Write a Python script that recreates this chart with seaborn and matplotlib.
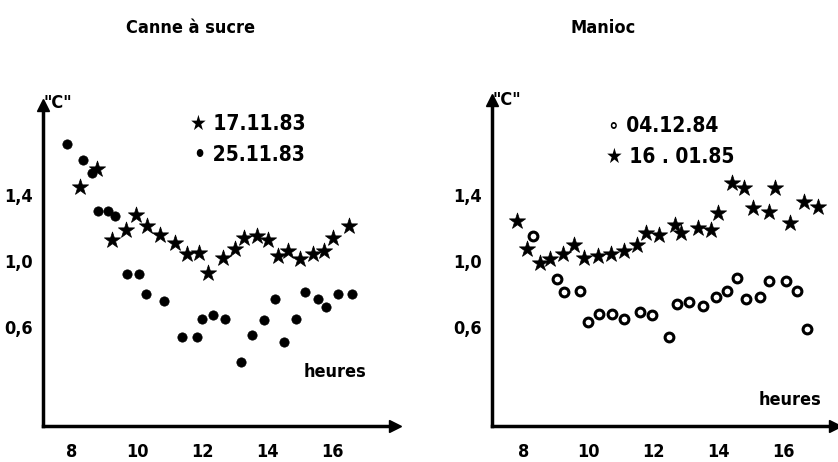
import numpy as np
import pandas as pd
import matplotlib.pyplot as plt
import seaborn as sns

# Canne a sucre
canne_h_1711 = [8.25, 8.76, 9.24, 9.65, 9.95, 10.31, 10.70, 11.17, 11.54, 11.90, 12.18, 12.62,
                13.00, 13.28, 13.67, 14.00, 14.33, 14.64, 15.01, 15.38, 15.73, 16.00, 16.50]
canne_t_1711 = [1.45, 1.56, 1.13, 1.19, 1.28, 1.21, 1.16, 1.11, 1.04, 1.05, 0.93, 1.02,
                1.07, 1.14, 1.15, 1.13, 1.03, 1.06, 1.01, 1.04, 1.06, 1.14, 1.21]
canne_h_2511 = [7.84, 8.35, 8.62, 8.81, 9.09, 9.32, 9.68, 10.06, 10.27, 10.82, 11.36, 11.84,
                11.98, 12.33, 12.69, 13.17, 13.52, 13.89, 14.24, 14.50, 14.86, 15.14, 15.54,
                15.78, 16.17, 16.59]
canne_t_2511 = [1.71, 1.61, 1.53, 1.30, 1.30, 1.27, 0.92, 0.92, 0.80, 0.76, 0.54, 0.54,
                0.65, 0.67, 0.65, 0.39, 0.55, 0.64, 0.77, 0.51, 0.65, 0.81, 0.77,
                0.72, 0.80, 0.80]

# Manioc
manioc_h_0412 = [8.29, 9.02, 9.24, 9.74, 9.98, 10.32, 10.71, 11.09, 11.57, 11.96, 12.47, 12.73,
                 13.09, 13.52, 13.93, 14.27, 14.57, 14.85, 15.29, 15.55, 16.08, 16.44, 16.73]
manioc_t_0412 = [1.15, 0.89, 0.81, 0.82, 0.63, 0.68, 0.68, 0.65, 0.69, 0.67, 0.54, 0.74,
                 0.75, 0.73, 0.78, 0.82, 0.90, 0.77, 0.78, 0.88, 0.88, 0.82, 0.59]
manioc_h_1601 = [7.78, 8.11, 8.49, 8.82, 9.21, 9.55, 9.85, 10.29, 10.70, 11.09, 11.50, 11.78,
                 12.18, 12.65, 12.85, 13.36, 13.78, 13.98, 14.42, 14.78, 15.06, 15.57, 15.75,
                 16.22, 16.65, 17.06]
manioc_t_1601 = [1.24, 1.07, 0.99, 1.01, 1.04, 1.10, 1.02, 1.03, 1.04, 1.06, 1.10, 1.17,
                 1.16, 1.22, 1.17, 1.20, 1.19, 1.29, 1.47, 1.44, 1.32, 1.30, 1.44,
                 1.23, 1.36, 1.33]

x_ticks = list(range(8, 17))
x_labels = ["8", "", "10", "", "12", "", "14", "", "16"]
y_ticks = [0.2, 0.4, 0.6, 0.8, 1.0, 1.2, 1.4, 1.6, 1.8]
y_labels = ["", "", "0,6", "", "1,0", "", "1,4", "", ""]

sns.set_style("white")
plt.rcParams['font.family'] = ['DejaVu Sans']
plt.rcParams['font.stretch'] = 'condensed'
plt.rcParams['font.weight'] = 'bold'
plt.rcParams['text.color'] = 'black'
plt.rcParams['xtick.color'] = 'black'
plt.rcParams['ytick.color'] = 'black'

fig = plt.figure(figsize=(8.38, 4.62), dpi=100)
ax1 = fig.add_axes([43 / 838, 36 / 462, 352 / 838, 321 / 462])
ax2 = fig.add_axes([492 / 838, 36 / 462, 343 / 838, 326 / 462])

d1 = pd.DataFrame({"h": canne_h_1711, "t": canne_t_1711})
d2 = pd.DataFrame({"h": canne_h_2511, "t": canne_t_2511})
d3 = pd.DataFrame({"h": manioc_h_0412, "t": manioc_t_0412})
d4 = pd.DataFrame({"h": manioc_h_1601, "t": manioc_t_1601})

sns.scatterplot(data=d2, x="h", y="t", ax=ax1, marker="o", s=45, color="black",
                edgecolor="black", linewidth=0.5)
sns.scatterplot(data=d1, x="h", y="t", ax=ax1, marker="*", s=150, color="black",
                edgecolor="black", linewidth=0.5)
sns.scatterplot(data=d3, x="h", y="t", ax=ax2, marker="o", s=40, facecolor="white",
                edgecolor="black", linewidth=2.2)
sns.scatterplot(data=d4, x="h", y="t", ax=ax2, marker="*", s=150, color="black",
                edgecolor="black", linewidth=0.5)

ax1.set_xlim(7.11, 17.91)
ax1.set_ylim(0, 1.945)
ax2.set_xlim(7.015, 17.6)
ax2.set_ylim(0, 1.976)

for ax in (ax1, ax2):
    ax.set_xlabel("")
    ax.set_ylabel("")
    for s in ("top", "right"):
        ax.spines[s].set_visible(False)
    for s in ("left", "bottom"):
        ax.spines[s].set_linewidth(2.5)
        ax.spines[s].set_color("black")
    ax.set_xticks(x_ticks)
    ax.set_xticklabels(x_labels)
    ax.set_yticks(y_ticks)
    ax.set_yticklabels(y_labels)
    ax.tick_params(axis="both", direction="inout", length=6, width=2, color="black",
                   labelsize=13)
    ax.tick_params(axis="x", pad=9)
    ax.tick_params(axis="y", pad=4)
    for lab in ax.get_xticklabels() + ax.get_yticklabels():
        lab.set_fontweight("bold")
        lab.set_fontstretch("condensed")
    ax.plot(1, 0, ">", color="black", markersize=8, transform=ax.transAxes, clip_on=False)
    ax.plot(0, 1, "^", color="black", markersize=8, transform=ax.transAxes, clip_on=False)

tkw = dict(fontsize=13, fontweight="bold", fontstretch="condensed", ha="center", va="center")
fig.text(190 / 838, 1 - 28 / 462, "Canne à sucre", **tkw)
fig.text(603 / 838, 1 - 28 / 462, "Manioc", **tkw)
fig.text(58 / 838, 1 - 103 / 462, '"C"', **tkw)
fig.text(507 / 838, 1 - 100 / 462, '"C"', **tkw)

lkw = dict(fontsize=15, fontweight="bold", fontstretch="condensed", ha="left", va="center")
fig.text(190 / 838, 1 - 124 / 462, "★ 17.11.83", **lkw)
fig.text(194 / 838, 1 - 155 / 462, "• 25.11.83", **lkw)
fig.text(608 / 838, 1 - 126 / 462, "∘ 04.12.84", **lkw)
fig.text(606 / 838, 1 - 157 / 462, "★ 16 . 01.85", **lkw)
fig.text(335 / 838, 1 - 372 / 462, "heures", **tkw)
fig.text(790 / 838, 1 - 400 / 462, "heures", **tkw)

fig.savefig("out.png", dpi=100, facecolor="white")
